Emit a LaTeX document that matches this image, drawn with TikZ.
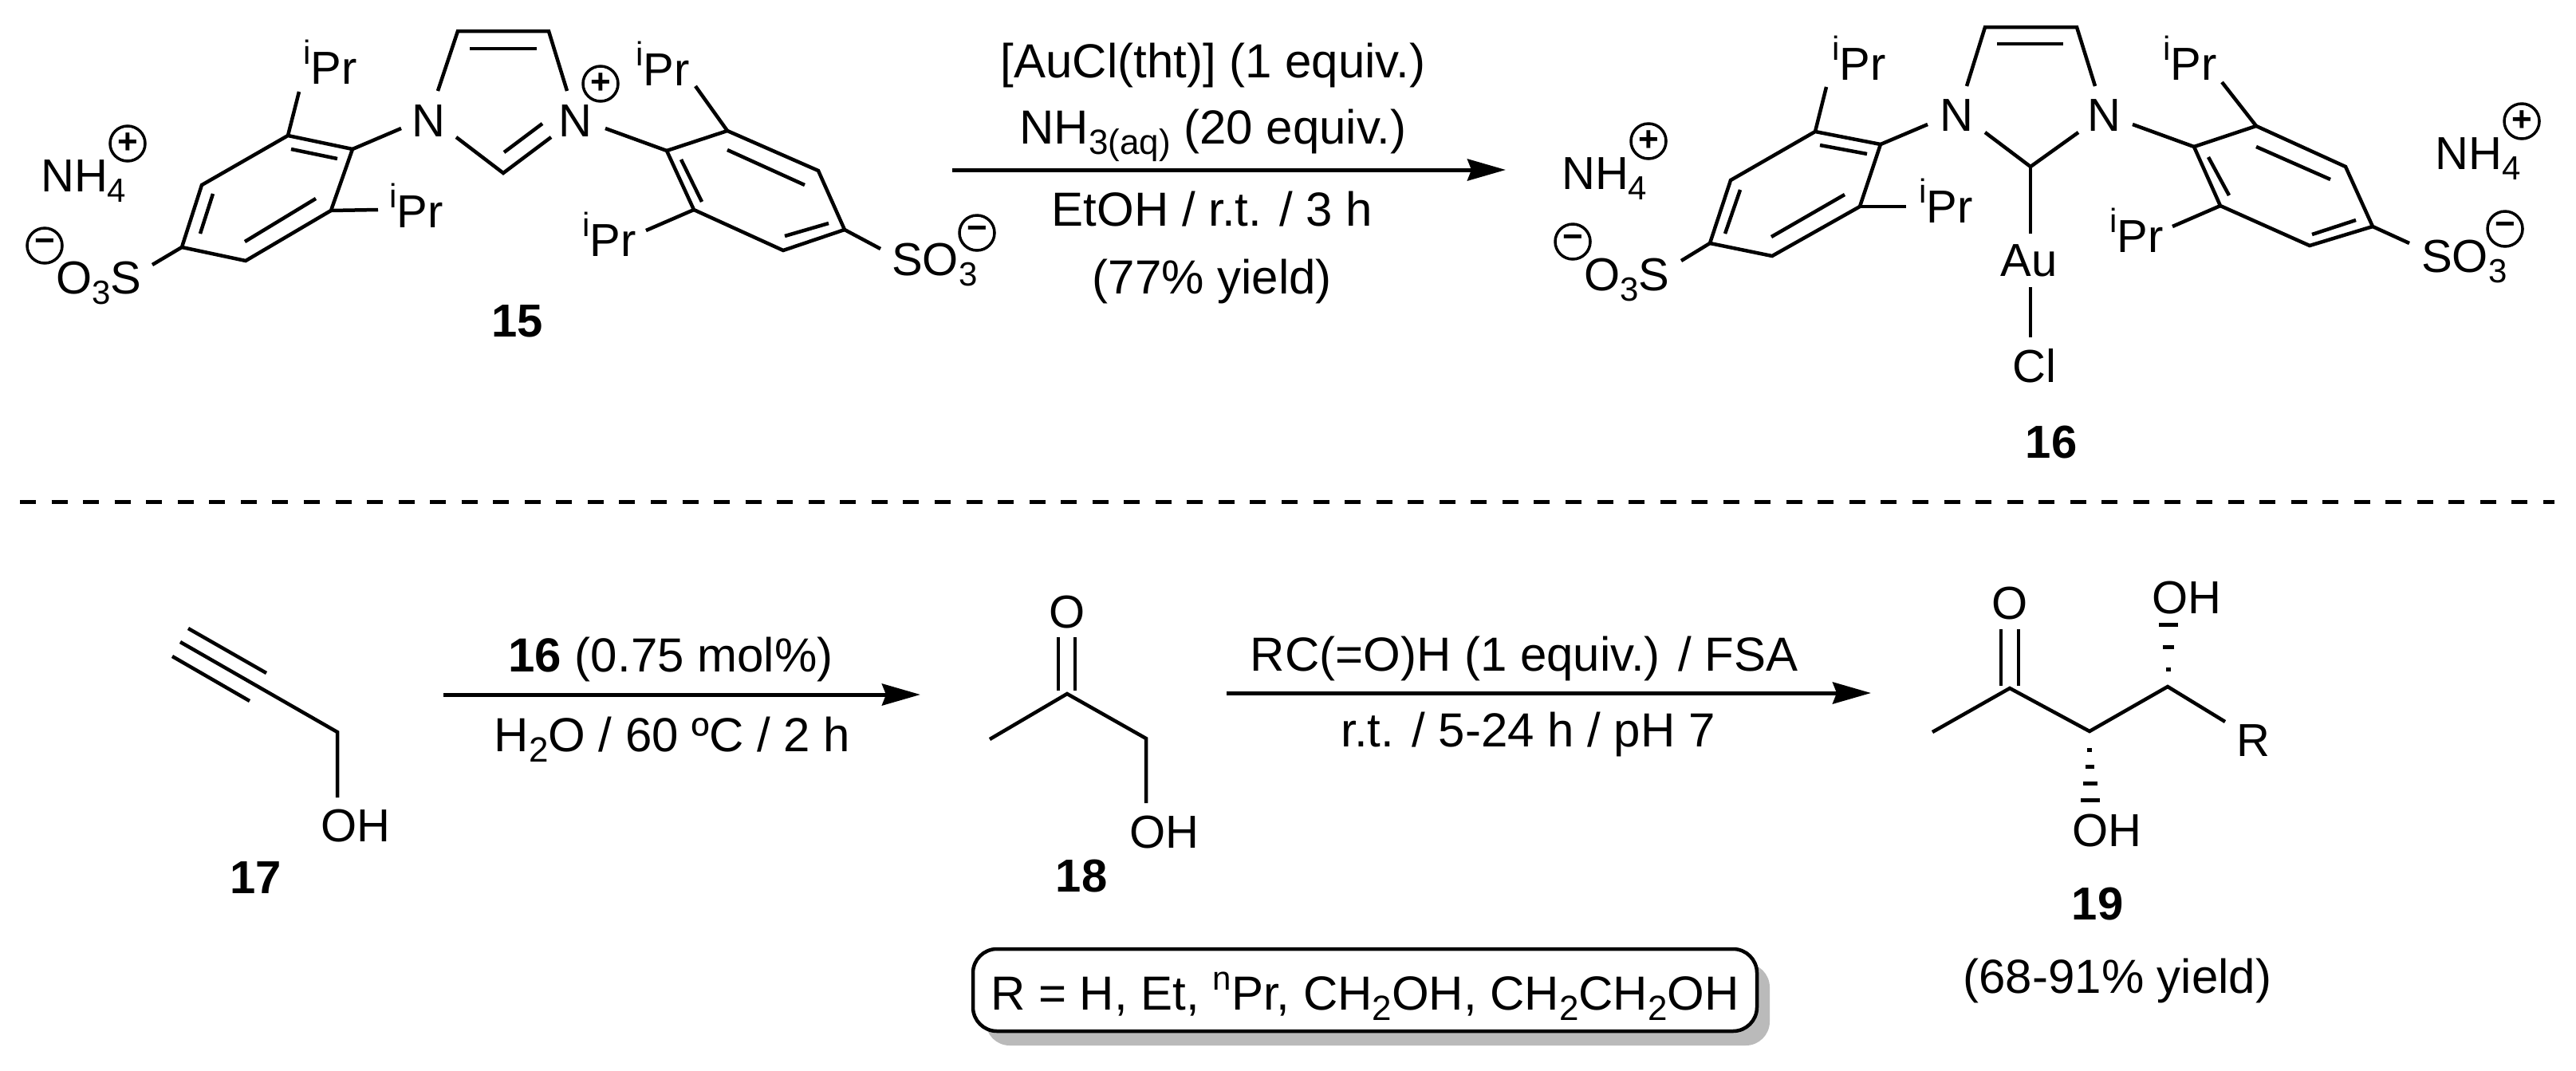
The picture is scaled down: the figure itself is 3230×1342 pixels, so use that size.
\documentclass[tikz,border=0pt]{standalone}
\usepackage{fontspec}
\setmainfont{Liberation Sans}
\usetikzlibrary{arrows.meta}
\newcommand{\Sb}[1]{\raisebox{-13pt}{\fontsize{42}{44}\selectfont #1}}
\newcommand{\Sc}[1]{\raisebox{-13pt}{\fontsize{44}{46}\selectfont #1}}
\newcommand{\Sp}[1]{\raisebox{25pt}{\fontsize{42}{44}\selectfont #1}}
\tikzset{
  bond/.style={line width=4.5pt,line cap=butt,line join=miter},
  thinbond/.style={line width=4pt},
  rxn/.style={line width=5pt,-{Stealth[length=48pt,width=27pt,inset=5pt]}},
  lab/.style={anchor=base west,inner sep=0pt,font=\fontsize{58}{60}\selectfont},
  ctr/.style={anchor=base,inner sep=0pt,font=\fontsize{58}{60}\selectfont},
  reag/.style={anchor=base,inner sep=0pt,font=\fontsize{60}{62}\selectfont},
  cmp/.style={anchor=base,inner sep=0pt,font=\fontsize{58}{60}\selectfont\bfseries},
  chg/.style={circle,draw,line width=3.5pt,inner sep=0pt,minimum size=44pt,font=\fontsize{44}{46}\selectfont\bfseries},
  hashb/.style={line width=5pt},
  rbox/.style={draw,line width=4.5pt,fill=white,rounded corners=30pt,inner sep=0pt,minimum width=983pt,minimum height=103pt,text height=55pt,text depth=6pt,font=\fontsize{60}{62}\selectfont},
  shadowbox/.style={fill=black!27,rounded corners=30pt},
}
\begin{document}
\begin{tikzpicture}[x=1pt,y=-1pt]
\useasboundingbox (0,0) rectangle (3230,1342);
% ---------- compound 15 ----------
\coordinate (a1) at (574,39); \coordinate (a2) at (688,39);
\coordinate (a1n) at (549,114); \coordinate (a2n) at (711,114);
\coordinate (a3) at (631,217); \coordinate (a3l) at (572,172); \coordinate (a3r) at (691,172);
\coordinate (ai1) at (589,61); \coordinate (ai2) at (673,61);
\coordinate (ai3) at (680,155); \coordinate (ai4) at (632,191);
\draw[bond] (a1n)--(a1)--(a2)--(a2n);
\draw[bond] (a3l)--(a3)--(a3r);
\draw[bond] (ai1)--(ai2);
\draw[bond] (ai3)--(ai4);
\node[ctr] (n15l) at (537,171) {N};
\node[ctr] (n15r) at (721,171) {N};
\node[chg] (p15) at (753,105) {+};
% left ring
\coordinate (la) at (361,170); \coordinate (lb) at (442,187); \coordinate (lc) at (415,264);
\coordinate (ld) at (308,327); \coordinate (le) at (228,310); \coordinate (lf) at (253,232);
\draw[bond] (la)--(lb)--(lc)--(ld)--(le)--(lf)--cycle;
\coordinate (li1) at (365,187); \coordinate (li2) at (423,199);
\coordinate (li3) at (267,243); \coordinate (li4) at (251,293);
\coordinate (li5) at (307,303); \coordinate (li6) at (396,249);
\draw[bond] (li1)--(li2); \draw[bond] (li3)--(li4); \draw[bond] (li5)--(li6);
\coordinate (ln) at (503,161); \draw[bond] (ln)--(lb);
\coordinate (lp1) at (375,115); \draw[bond] (lp1)--(la);
\coordinate (lp2) at (474,263); \draw[bond] (lp2)--(lc);
\coordinate (ls) at (191,332); \draw[bond] (ls)--(le);
\node[lab] (ipr1) at (380,105) {\Sp{i}Pr};
\node[lab] (ipr2) at (488,285) {\Sp{i}Pr};
\node[lab] (nh1) at (51,240) {NH\Sb{4}};
\node[chg] (p1) at (160,180) {+};
\node[lab] (so1) at (70,368) {O\Sb{3}S};
\node[chg] (m1) at (56,308) {−};
% right ring
\coordinate (ra) at (912,164); \coordinate (rb) at (836,189); \coordinate (rc) at (870,263);
\coordinate (rd) at (982,314); \coordinate (re) at (1059,288); \coordinate (rf) at (1026,214);
\draw[bond] (ra)--(rb)--(rc)--(rd)--(re)--(rf)--cycle;
\coordinate (ri1) at (854,200); \coordinate (ri2) at (880,253);
\coordinate (ri3) at (912,188); \coordinate (ri4) at (1009,232);
\coordinate (ri5) at (1039,280); \coordinate (ri6) at (984,296);
\draw[bond] (ri1)--(ri2); \draw[bond] (ri3)--(ri4); \draw[bond] (ri5)--(ri6);
\coordinate (rn) at (759,161); \draw[bond] (rn)--(rb);
\coordinate (rp1) at (872,108); \draw[bond] (rp1)--(ra);
\coordinate (rp2) at (810,289); \draw[bond] (rp2)--(rc);
\coordinate (rs) at (1104,312); \draw[bond] (rs)--(re);
\node[lab] (ipr3) at (797,107) {\Sp{i}Pr};
\node[lab] (ipr4) at (730,321) {\Sp{i}Pr};
\node[lab] (so2) at (1118,345) {SO\Sb{3}};
\node[chg] (m2) at (1225,292) {−};
\node[cmp] (c15) at (649,422) {15};
% ---------- first arrow ----------
\coordinate (ar1s) at (1194,213); \coordinate (ar1e) at (1888,213);
\draw[rxn] (ar1s)--(ar1e);
\node[reag] (t1) at (1521,97) {[AuCl(tht)] (1 equiv.)};
\node[reag] (t2) at (1521,180) {NH\Sc{3(aq)} (20 equiv.)};
\node[reag] (t3) at (1520,283) {EtOH / r.t. / 3 h};
\node[reag] (t4) at (1520,368) {(77\% yield)};
% ---------- compound 16 ----------
\coordinate (b1) at (2489,34); \coordinate (b2) at (2604,34);
\coordinate (b1n) at (2466,108); \coordinate (b2n) at (2627,108);
\coordinate (b3) at (2546,209); \coordinate (b3l) at (2489,166); \coordinate (b3r) at (2606,166);
\coordinate (bi1) at (2504,55); \coordinate (bi2) at (2587,55);
\draw[bond] (b1n)--(b1)--(b2)--(b2n);
\draw[bond] (b3l)--(b3)--(b3r);
\draw[bond] (bi1)--(bi2);
\node[ctr] (n16l) at (2453,164) {N};
\node[ctr] (n16r) at (2638,164) {N};
\coordinate (bau) at (2546,293); \draw[bond] (b3)--(bau);
\node[ctr] (au) at (2544,346) {Au};
\coordinate (bau2) at (2546,360); \coordinate (bcl) at (2546,423); \draw[bond] (bau2)--(bcl);
\node[ctr] (cl) at (2551,479) {Cl};
\node[cmp] (c16) at (2572,574) {16};
% left ring
\coordinate (ma) at (2276,165); \coordinate (mb) at (2358,181); \coordinate (mc) at (2332,259);
\coordinate (md) at (2222,321); \coordinate (me) at (2144,305); \coordinate (mf) at (2170,226);
\draw[bond] (ma)--(mb)--(mc)--(md)--(me)--(mf)--cycle;
\coordinate (mi1) at (2282,182); \coordinate (mi2) at (2341,193);
\coordinate (mi3) at (2182,238); \coordinate (mi4) at (2163,293);
\coordinate (mi5) at (2221,297); \coordinate (mi6) at (2313,244);
\draw[bond] (mi1)--(mi2); \draw[bond] (mi3)--(mi4); \draw[bond] (mi5)--(mi6);
\coordinate (mn) at (2417,156); \draw[bond] (mn)--(mb);
\coordinate (mp1) at (2290,109); \draw[bond] (mp1)--(ma);
\coordinate (mp2) at (2390,259); \draw[bond] (mp2)--(mc);
\coordinate (ms) at (2108,327); \draw[bond] (ms)--(me);
\node[lab] (ipr5) at (2297,100) {\Sp{i}Pr};
\node[lab] (ipr6) at (2406,279) {\Sp{i}Pr};
\node[lab] (nh2) at (1958,237) {NH\Sb{4}};
\node[chg] (p2) at (2067,177) {+};
\node[lab] (so3) at (1986,364) {O\Sb{3}S};
\node[chg] (m3) at (1972,303) {−};
% right ring
\coordinate (qa) at (2829,158); \coordinate (qb) at (2751,184); \coordinate (qc) at (2784,258);
\coordinate (qd) at (2896,308); \coordinate (qe) at (2975,284); \coordinate (qf) at (2941,209);
\draw[bond] (qa)--(qb)--(qc)--(qd)--(qe)--(qf)--cycle;
\coordinate (qi1) at (2769,197); \coordinate (qi2) at (2795,245);
\coordinate (qi3) at (2829,184); \coordinate (qi4) at (2922,225);
\coordinate (qi5) at (2954,276); \coordinate (qi6) at (2899,294);
\draw[bond] (qi1)--(qi2); \draw[bond] (qi3)--(qi4); \draw[bond] (qi5)--(qi6);
\coordinate (qn) at (2674,156); \draw[bond] (qn)--(qb);
\coordinate (qp1) at (2786,103); \draw[bond] (qp1)--(qa);
\coordinate (qp2) at (2724,284); \draw[bond] (qp2)--(qc);
\coordinate (qs) at (3021,305); \draw[bond] (qs)--(qe);
\node[lab] (ipr7) at (2712,100) {\Sp{i}Pr};
\node[lab] (ipr8) at (2645,316) {\Sp{i}Pr};
\node[lab] (so4) at (3036,341) {SO\Sb{3}};
\node[chg] (m4) at (3141,287) {−};
\node[lab] (nh3) at (3053,212) {NH\Sb{4}};
\node[chg] (p3) at (3162,152) {+};
% ---------- dashed separator ----------
\coordinate (dl) at (25,629); \coordinate (dr) at (3203,629);
\draw[line width=5pt,dash pattern=on 20pt off 19.55pt] (dl)--(dr);
% ---------- compound 17 ----------
\coordinate (e1) at (226,805); \coordinate (e2) at (423,918); \coordinate (e3) at (423,1000);
\coordinate (e4) at (236,788); \coordinate (e5) at (334,844);
\coordinate (e6) at (216,823); \coordinate (e7) at (313,879);
\draw[bond] (e1)--(e2)--(e3);
\draw[bond] (e4)--(e5); \draw[bond] (e6)--(e7);
\node[lab] (oh17) at (402,1055) {OH};
\node[cmp] (c17) at (321,1120) {17};
% ---------- second arrow ----------
\coordinate (ar2s) at (556,871); \coordinate (ar2e) at (1154,871);
\draw[rxn] (ar2s)--(ar2e);
\node[reag] (t5) at (841,842) {\textbf{16} (0.75 mol\%)};
\node[reag] (t6) at (843,942) {H\Sc{2}O / 60 ºC / 2 h};
% ---------- compound 18 ----------
\coordinate (f0) at (1338,870); \coordinate (f1) at (1241,927); \coordinate (f2) at (1437,926); \coordinate (f3) at (1437,1007);
\draw[bond] (f1)--(f0)--(f2)--(f3);
\coordinate (f4) at (1327,799); \coordinate (f5) at (1327,866);
\coordinate (f6) at (1348,799); \coordinate (f7) at (1348,866);
\draw[thinbond] (f4)--(f5); \draw[thinbond] (f6)--(f7);
\node[ctr] (o18) at (1338,787) {O};
\node[lab] (oh18) at (1416,1063) {OH};
\node[cmp] (c18) at (1356,1118) {18};
% ---------- third arrow ----------
\coordinate (ar3s) at (1538,869); \coordinate (ar3e) at (2346,869);
\draw[rxn] (ar3s)--(ar3e);
\node[reag] (t7) at (1911,841) {RC(=O)H (1 equiv.) / FSA};
\node[reag] (t8) at (1916,936) {r.t. / 5-24 h / pH 7};
% ---------- compound 19 ----------
\coordinate (g0) at (2520,863); \coordinate (g1) at (2423,918); \coordinate (g2) at (2620,917);
\coordinate (g3) at (2718,861); \coordinate (g4) at (2790,905);
\draw[bond] (g1)--(g0)--(g2)--(g3)--(g4);
\coordinate (g5) at (2509,789); \coordinate (g6) at (2509,860);
\coordinate (g7) at (2531,789); \coordinate (g8) at (2531,860);
\draw[thinbond] (g5)--(g6); \draw[thinbond] (g7)--(g8);
\draw[hashb] (2716,839)--(2722,839); \draw[hashb] (2712,811)--(2726,811); \draw[hashb] (2707,783)--(2731,783);
\draw[hashb] (2617,940)--(2623,940); \draw[hashb] (2615,961)--(2626,961); \draw[hashb] (2612,982)--(2630,982); \draw[hashb] (2609,1003)--(2633,1003);
\node[ctr] (o19) at (2520,776) {O};
\node[lab] (oh19a) at (2698,769) {OH};
\node[lab] (oh19b) at (2598,1061) {OH};
\node[lab] (r19) at (2804,948) {R};
\node[cmp] (c19) at (2630,1153) {19};
\node[reag] (t9) at (2655,1245) {(68-91\% yield)};
% ---------- R box ----------
\fill[shadowbox] (1236,1208) rectangle (2219,1311);
\node[rbox] (rlist) at (1711.5,1241.5) {R = H, Et, \Sp{n}Pr, CH\Sc{2}OH, CH\Sc{2}CH\Sc{2}OH};
\end{tikzpicture}
\end{document}
